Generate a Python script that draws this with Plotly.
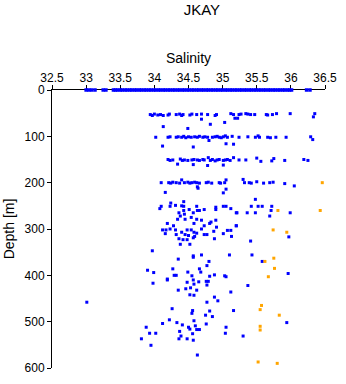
import plotly.graph_objects as go

# ---- data ----
surface_sal = [33.00, 33.04, 33.08, 33.13, 33.25, 33.29,
               33.40, 33.43, 33.46, 33.50, 33.53, 33.57, 33.60, 33.64, 33.67, 33.71, 33.74, 33.78,
               33.81, 33.85, 33.88, 33.92, 33.95, 33.99, 34.02, 34.06, 34.09, 34.13, 34.16, 34.20,
               34.23, 34.27, 34.30, 34.34, 34.37, 34.41, 34.44, 34.48, 34.51, 34.55, 34.58, 34.62,
               34.65, 34.69, 34.72, 34.76, 34.79, 34.83, 34.86, 34.90, 34.93, 34.97, 35.00, 35.04,
               35.07, 35.11, 35.14, 35.18, 35.21, 35.25, 35.28, 35.32, 35.35, 35.39, 35.42, 35.46,
               35.49, 35.53, 35.56, 35.60, 35.63, 35.67, 35.70, 35.74, 35.77, 35.81, 35.84, 35.88,
               35.91, 35.95, 35.98, 36.01, 36.23, 36.28]
surface_depth = [0] * len(surface_sal)

blue_sal = [
    # ~50 m
    33.94, 33.97, 34.00, 34.05, 34.09, 34.13, 34.20, 34.22, 34.32, 34.37, 34.40, 34.42, 34.52, 34.55,
    34.62, 34.69, 34.69, 34.78, 34.89, 34.91, 35.12, 35.16, 35.18, 34.13, 34.49, 34.82, 35.03,
    35.24, 35.27, 35.34, 35.37, 35.41, 35.47, 35.64, 35.66, 35.73, 35.79, 35.99, 36.35, 36.33, 35.22,
    # ~100 m
    34.02, 34.20, 34.23, 34.32, 34.35, 34.40, 34.43, 34.46, 34.50, 34.54, 34.59, 34.63, 34.66, 34.71,
    34.74, 34.78, 34.80, 34.85, 34.89, 34.92, 34.95, 34.98, 35.01, 35.04, 35.07, 35.14, 35.05, 35.16,
    34.12, 34.57, 35.24, 35.37, 35.48, 35.52, 35.54, 35.66, 35.70, 35.78, 35.93, 36.29, 36.32,
    # ~150 m
    34.20, 34.23, 34.27, 34.34, 34.38, 34.41, 34.44, 34.49, 34.55, 34.58, 34.63, 34.66, 34.71, 34.73,
    34.79, 34.82, 34.85, 34.89, 34.92, 34.95, 35.01, 35.04, 35.07, 35.11, 35.16, 34.57, 34.78, 35.01,
    35.24, 35.34, 35.50, 35.56, 35.72, 35.75, 35.91, 36.19, 36.25,
    # ~200 m
    34.10, 34.21, 34.24, 34.27, 34.32, 34.37, 34.40, 34.44, 34.49, 34.52, 34.55, 34.59, 34.62, 34.66,
    34.76, 34.79, 34.84, 34.95, 34.97, 35.03, 35.05, 34.63, 35.30, 35.32, 35.39, 35.42, 35.50, 35.60,
    35.69, 35.74, 35.91, 36.05,
    # 210-410 m
    34.64, 34.16, 35.05, 35.01, 34.43, 34.24, 34.31, 34.23, 34.10, 34.08, 34.40, 34.43, 34.62, 34.63,
    34.66, 34.73, 34.90, 34.90, 35.01, 35.05, 35.12, 35.20, 34.43, 34.51, 34.36, 34.38, 34.44, 34.57,
    34.54, 34.34, 34.45, 34.62, 34.69, 34.90, 34.73, 34.81, 34.83, 34.91, 34.19, 34.28, 34.58, 34.69,
    35.20, 34.12, 34.17, 34.23, 34.16, 34.31, 34.40, 34.48, 34.54, 34.58, 34.62, 34.59, 34.57, 34.50,
    34.45, 34.73, 34.77, 34.87, 35.01, 35.07, 35.12, 35.13, 34.32, 34.36, 34.42, 34.48, 34.38, 34.52,
    34.88, 33.97, 34.35, 34.57, 34.57, 34.69, 35.10, 34.80, 34.77, 34.27, 34.66, 33.90, 33.99, 34.29,
    34.32, 34.49, 34.68, 34.81, 34.88, 35.03, 35.05, 34.55, 34.19, 34.57,
    35.48, 35.42, 35.52, 35.58, 35.72, 35.71, 35.21, 35.36, 35.48, 35.69, 35.99, 35.20, 35.97, 35.41,
    35.43, 35.58, 35.96,
    # 410-600 m
    33.98, 34.19, 34.48, 34.65, 34.76, 34.79, 34.77, 34.58, 34.46, 34.53, 34.35, 34.62, 34.52, 34.58,
    34.88, 34.93, 34.77, 35.12, 35.16, 34.26, 34.56, 34.55, 34.75, 34.81, 34.85, 34.22, 34.12, 34.33,
    34.41, 34.58, 34.60, 34.50, 34.52, 34.62, 34.66, 34.76, 35.05, 35.04, 33.88, 33.93, 34.02, 34.37,
    34.39, 34.56, 34.36, 34.48, 34.57, 33.81, 33.95, 34.63, 35.37, 35.94, 35.30, 33.01,
]
blue_depth = [
    53, 55, 52, 54, 53, 55, 54, 52, 53, 52, 55, 53, 54, 52,
    53, 52, 63, 53, 55, 53, 51, 53, 61, 79, 83, 74, 70,
    53, 52, 51, 52, 53, 53, 53, 54, 53, 51, 51, 51, 58, 61,
    102, 102, 101, 102, 101, 102, 100, 103, 101, 102, 101, 102, 100, 102,
    101, 102, 109, 102, 101, 100, 102, 103, 101, 99, 102, 100, 116, 117,
    121, 123, 102, 101, 102, 99, 102, 102, 103, 102, 102, 101, 107,
    150, 152, 151, 160, 149, 152, 151, 152, 151, 150, 151, 152, 150, 151,
    146, 152, 150, 153, 151, 150, 152, 151, 150, 152, 146, 161, 163, 162,
    151, 151, 147, 154, 153, 148, 152, 150, 152,
    200, 200, 201, 199, 200, 201, 194, 200, 199, 201, 200, 199, 200, 201,
    200, 199, 201, 200, 201, 200, 194, 209, 193, 200, 200, 201, 198, 201,
    200, 199, 202, 207,
    212, 221, 214, 222, 241, 244, 249, 251, 251, 256, 250, 251, 251, 260,
    260, 258, 253, 258, 251, 251, 256, 265, 260, 258, 265, 272, 268, 265,
    275, 279, 279, 279, 281, 281, 293, 288, 285, 296, 288, 293, 288, 300,
    293, 302, 302, 300, 310, 302, 307, 302, 302, 307, 309, 316, 319, 314,
    312, 312, 312, 305, 310, 303, 303, 316, 312, 321, 323, 323, 333, 333,
    321, 347, 365, 358, 361, 356, 356, 370, 379, 386, 386, 389, 394, 400,
    400, 393, 393, 402, 399, 401, 403, 401, 408, 410,
    236, 251, 251, 251, 251, 260, 265, 265, 265, 272, 265, 293, 317, 326,
    356, 370, 396,
    417, 410, 415, 414, 413, 413, 421, 419, 429, 427, 432, 432, 442, 443,
    447, 455, 458, 436, 476, 472, 476, 482, 486, 477, 489, 496, 504, 502,
    507, 498, 509, 512, 516, 517, 517, 505, 512, 525, 512, 525, 525, 521,
    531, 526, 537, 537, 540, 537, 551, 572, 422, 502, 531, 458,
]

orange_sal = [36.46, 35.81, 36.43, 35.74, 35.94, 35.75, 35.62, 35.76, 35.67,
              35.57, 35.55, 35.83, 35.55, 35.55, 35.52, 35.80]
orange_depth = [200, 260, 260, 302, 307, 363, 370, 385, 403,
                465, 474, 486, 510, 518, 587, 590]

x_ticks = [32.5, 33, 33.5, 34, 34.5, 35, 35.5, 36, 36.5]
y_ticks = [0, 100, 200, 300, 400, 500, 600]

FONT = "Liberation Sans, Arial, Helvetica, sans-serif"

fig = go.Figure()
fig.add_trace(go.Scatter(x=surface_sal, y=surface_depth, mode="markers", cliponaxis=False,
                         marker=dict(symbol="square", size=3.5, color="#0000FF", line=dict(width=0))))
fig.add_trace(go.Scatter(x=blue_sal, y=blue_depth, mode="markers", cliponaxis=False,
                         marker=dict(symbol="square", size=3, color="#0000FF", line=dict(width=0))))
fig.add_trace(go.Scatter(x=orange_sal, y=orange_depth, mode="markers", cliponaxis=False,
                         marker=dict(symbol="square", size=3, color="#FFA500", line=dict(width=0))))

fig.update_layout(
    width=346, height=384,
    margin=dict(l=48, r=14, t=90, b=9),
    paper_bgcolor="white", plot_bgcolor="white",
    showlegend=False,
    font=dict(family=FONT, size=12, color="black"),
    title=dict(text="JKAY", x=190 / 346, xanchor="center", xref="paper",
               y=1 - 10 / 384, yanchor="middle", font=dict(size=15, color="black")),
)
fig.update_xaxes(
    side="top", range=[32.5, 36.5], tickvals=x_ticks, ticktext=[str(v) for v in x_ticks],
    showline=True, linecolor="black", linewidth=1, ticks="outside", ticklen=4,
    tickcolor="black", showgrid=False, zeroline=False, layer="below traces",
    ticklabelstandoff=-2,
    title=dict(text="Salinity", standoff=4), tickfont=dict(size=12),
)
fig.update_yaxes(
    range=[600, 0], tickvals=y_ticks, showline=True, linecolor="black", linewidth=1,
    ticks="outside", ticklen=4, tickcolor="black", showgrid=False, zeroline=False,
    layer="below traces", title=dict(text="Depth [m]", standoff=6), tickfont=dict(size=12),
)

fig.write_html("out.html")
